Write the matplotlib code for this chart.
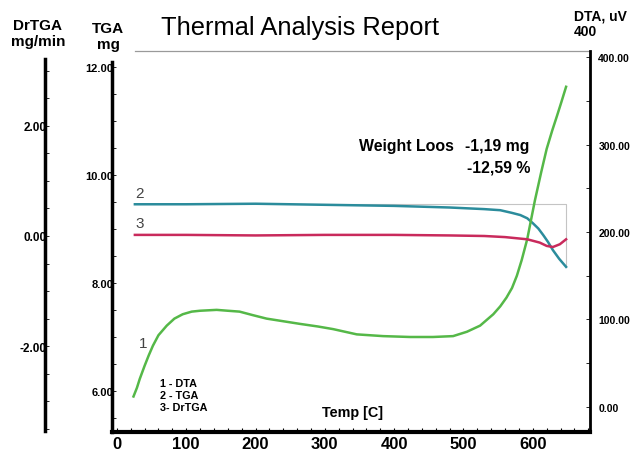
import matplotlib
matplotlib.use("Agg")
import matplotlib.pyplot as plt
from matplotlib.ticker import MultipleLocator, FormatStrFormatter

plt.rcParams['font.family'] = ['Liberation Sans', 'DejaVu Sans']

# DTA curve (1), uV
dta_temp = [24, 29, 33, 40, 46, 52, 60, 72, 83, 95, 108, 120, 144, 160, 177,
            196, 216, 240, 264, 290, 312, 346, 384, 423, 456, 485, 505, 524,
            543, 553, 562, 570, 577, 584, 592, 603, 612, 620, 628, 635, 641, 648]
dta_val = [12, 22, 32, 47, 59, 70, 82, 93, 101, 106, 109, 110, 111, 110, 109,
           105, 101, 98, 95, 92, 89, 83, 81, 80, 80, 81, 86, 93,
           106, 115, 125, 136, 150, 168, 192, 236, 268, 295, 316, 333, 348, 366]

# TGA curve (2), mg
tga_temp = [26, 100, 200, 300, 400, 480, 530, 553, 570, 582, 592, 600, 608,
            615, 622, 629, 638, 648]
tga_val = [9.46, 9.46, 9.47, 9.45, 9.43, 9.40, 9.37, 9.35, 9.30, 9.26, 9.20,
           9.11, 9.01, 8.89, 8.76, 8.61, 8.45, 8.30]

# DrTGA curve (3), mg/min
dr_temp = [26, 100, 200, 300, 400, 480, 530, 560, 592, 610, 620, 629, 639, 648]
dr_val = [0.02, 0.02, 0.01, 0.02, 0.02, 0.01, 0.0, -0.02, -0.06, -0.12, -0.18,
          -0.2, -0.15, -0.06]

x_ticks = [0, 100, 200, 300, 400, 500, 600]
tga_ticks = [6, 8, 10, 12]
dta_ticks = [0, 100, 200, 300, 400]
dr_ticks = [-2, 0, 2]

W, H = 634, 452
fig = plt.figure(figsize=(W / 100, H / 100), dpi=100)
ax = fig.add_axes([112 / W, 1 - 433 / H, 478 / W, 381 / H])
ax2 = ax.twinx()
ax3 = ax.twinx()

ax.set_xlim(-7, 682.5)
ax.set_ylim(5.24, 12.30)
ax2.set_ylim(-28.6, 406.9)
ax3.set_ylim(-3.56, 3.36)

# spines
for a in (ax2, ax3):
    for s in ('top', 'bottom'):
        a.spines[s].set_visible(False)
ax.spines['right'].set_visible(False)
ax2.spines['left'].set_visible(False)
ax3.spines['right'].set_visible(False)
ax.spines['top'].set_bounds(26, 682.5)
ax.spines['top'].set_color('#9a9a9a')
ax.spines['top'].set_linewidth(0.9)
ax.spines['left'].set_linewidth(2.5)
ax.spines['left'].set_bounds(5.24, 12.1)
ax.spines['bottom'].set_linewidth(3)
ax2.spines['right'].set_linewidth(2)
ax3.spines['left'].set_position(('axes', -0.140))
ax3.spines['left'].set_linewidth(2.5)
ax3.spines['left'].set_bounds(-3.55, 3.22)
ax3.yaxis.set_ticks_position('left')

# ticks
ax.set_xticks(x_ticks)
ax.xaxis.set_minor_locator(MultipleLocator(20))
ax.tick_params(axis='x', which='both', direction='in', length=3, width=0.8,
               labelsize=12, pad=3, top=False)
ax.set_yticks(tga_ticks)
ax.yaxis.set_major_formatter(FormatStrFormatter('%.2f'))
ax.yaxis.set_minor_locator(MultipleLocator(0.5))
ax.tick_params(axis='y', which='both', direction='in', length=3, width=0.6,
               labelsize=8, pad=-1)

ax2.set_yticks(dta_ticks)
ax2.yaxis.set_major_formatter(FormatStrFormatter('%.2f'))
ax2.yaxis.set_minor_locator(MultipleLocator(50))
ax2.tick_params(axis='y', which='both', direction='in', length=3, width=0.6,
                labelsize=7.5, pad=6)

ax3.set_yticks(dr_ticks)
ax3.yaxis.set_major_formatter(FormatStrFormatter('%.2f'))
ax3.yaxis.set_minor_locator(MultipleLocator(0.5))
ax3.tick_params(axis='y', which='both', direction='in', length=3, width=0.6,
                labelsize=8.5, pad=-1, right=False)

for lab in ax.get_xticklabels() + ax.get_yticklabels() + ax2.get_yticklabels() + ax3.get_yticklabels():
    lab.set_fontweight('bold')

# weight loss bracket
ax.plot([26, 648, 648], [tga_val[0], tga_val[0], tga_val[-1]],
        color='#c4c4c4', lw=0.8, zorder=1)

ax.plot(tga_temp, tga_val, color='#2b8c9c', lw=1.8)
ax2.plot(dta_temp, dta_val, color='#55b848', lw=1.8)
ax3.plot(dr_temp, dr_val, color='#c92a5c', lw=1.8)


def ftext(x, y, s, **kw):
    fig.text(x / W, 1 - y / H, s, **kw)


ftext(300, 28, 'Thermal Analysis Report', fontsize=18.4, ha='center', va='center')
ftext(38, 34, 'DrTGA\nmg/min', fontsize=11, fontweight='bold', ha='center',
      va='center', linespacing=1.25)
ftext(108, 37, 'TGA\nmg', fontsize=11, fontweight='bold', ha='center',
      va='center', linespacing=1.2)
ftext(574, 24, 'DTA, uV\n400', fontsize=10, fontweight='bold', ha='left',
      va='center', linespacing=1.15)
ftext(359, 147, 'Weight Loos', fontsize=11.4, fontweight='bold', va='center')
ftext(465, 147, '-1,19 mg', fontsize=11.4, fontweight='bold', va='center')
ftext(467, 168, '-12,59 %', fontsize=11.4, fontweight='bold', va='center')
ftext(140, 194, '2', fontsize=11, color='#444444', ha='center', va='center')
ftext(140, 224, '3', fontsize=11, color='#444444', ha='center', va='center')
ftext(143, 344, '1', fontsize=11, color='#444444', ha='center', va='center')
ftext(160, 396, '1 - DTA\n2 - TGA\n3- DrTGA', fontsize=7.8, fontweight='bold',
      va='center', linespacing=1.2)
ftext(352, 413, 'Temp [C]', fontsize=10.4, fontweight='bold', ha='center',
      va='center')

fig.savefig('out.png', dpi=100)
